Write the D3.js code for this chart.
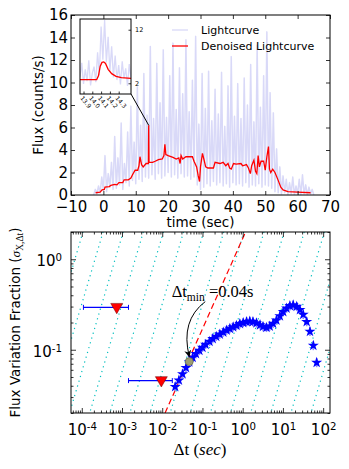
<!DOCTYPE html>
<html lang="en">
<head>
<meta charset="UTF-8" />
<title>Lightcurve and flux variation fraction</title>
<script src="https://d3js.org/d3.v7.min.js"></script>
<style>
  body { margin: 0; background: #fff; }
  svg { display: block; font-family: 'DejaVu Sans', sans-serif; }
</style>
</head>
<body>
<div id="chart"></div>
<script>
// ---- lightcurve (0.5 s bins starting at -3 s)
const lcStart = -3;
const lcBin = 0.5;
const lcFlux = [
  0.0, 0.5, 0.1, 0.8, 0.2, 1.6, 0.4, 3.5, 0.3, 1.9,
  0.7, 2.9, 0.5, 5.2, 0.6, 3.3, 0.9, 6.4, 0.5, 2.8,
  1.1, 5.6, 0.8, 7.9, 1.3, 4.7, 1.0, 9.6, 1.4, 6.2,
  1.2, 10.8, 1.6, 7.1, 1.5, 13.2, 1.8, 6.8, 1.4, 11.7,
  1.9, 8.2, 1.5, 12.9, 1.7, 6.9, 2.0, 10.6, 1.6, 13.5,
  1.8, 7.6, 1.5, 11.3, 1.9, 9.0, 1.6, 13.8, 1.7, 7.4,
  1.4, 10.2, 1.6, 14.1, 0.9, 6.3, 0.5, 10.8, 0.7, 7.7,
  1.0, 11.0, 0.8, 6.6, 1.2, 9.4, 0.9, 7.2, 1.1, 10.9,
  0.8, 6.1, 1.0, 9.7, 0.7, 12.3, 1.1, 7.0, 0.9, 9.9,
  1.0, 6.8, 0.8, 10.4, 1.1, 8.0, 0.7, 11.6, 0.9, 6.5,
  0.8, 13.3, 1.0, 7.8, 0.7, 10.6, 0.9, 14.5, 0.8, 9.1,
  0.6, 7.3, 0.3, 4.1, 0.2, 2.5, 0.1, 1.7, 0.2, 1.4,
  0.0, 1.1, 0.1, 1.6, 0.0, 0.8, 0.1, 1.4, 0.0, 1.8,
  0.1, 0.9, 0.0, 0.7, 0.1, 0.5, 0.0
];

// denoised lightcurve [time, flux]
const denoised = [
  [-2.4, 0.2], [-1.0, 0.25], [-0.4, 0.45], [0.3, 0.5], [0.5, 0.7], [1.8, 0.75],
  [2.3, 0.85], [3.5, 0.95], [4.2, 0.9], [4.8, 1.1], [6.0, 1.1], [6.4, 1.35],
  [7.7, 1.35], [8.5, 1.5], [9.0, 1.8], [9.8, 2.2], [10.6, 2.2], [11.0, 2.6],
  [11.3, 3.4], [11.8, 2.7], [12.3, 2.5], [13.2, 2.8], [13.9, 2.8], [14.0, 6.2],
  [14.1, 2.9], [15.2, 2.9], [16.0, 3.0], [17.0, 3.15], [18.2, 3.2], [18.7, 3.5],
  [19.0, 4.5], [19.3, 3.6], [20.0, 3.5], [21.5, 3.35], [22.5, 3.2], [23.3, 3.3],
  [23.7, 2.8], [24.0, 3.5], [24.5, 3.2], [25.5, 3.4], [27.5, 3.4], [28.0, 3.0],
  [28.8, 2.5], [29.3, 1.7], [29.7, 1.2], [30.0, 2.5], [30.6, 3.7], [31.2, 3.0],
  [31.6, 2.5], [32.3, 2.4], [34.0, 2.4], [34.5, 2.9], [36.0, 2.8], [37.0, 2.9],
  [37.8, 2.6], [38.5, 2.8], [39.0, 2.4], [39.5, 2.3], [40.2, 2.8], [41.0, 2.75],
  [42.5, 2.8], [43.0, 2.6], [44.2, 2.7], [44.8, 2.4], [45.4, 1.9], [45.8, 2.6],
  [46.5, 3.1], [47.0, 2.1], [47.4, 1.9], [47.8, 3.5], [48.2, 2.5], [48.7, 3.0],
  [49.5, 3.0], [50.0, 2.2], [50.5, 3.4], [51.0, 4.3], [51.3, 2.3], [51.7, 2.0],
  [52.3, 2.3], [53.0, 2.0], [54.0, 1.3], [54.8, 0.7], [55.5, 0.45], [57.0, 0.3],
  [60.0, 0.25], [64.0, 0.2]
];
const spike = [14.0, 6.2];

// inset (0.02 s bins from 13.86 s)
const insetStart = 13.86;
const insetBin = 0.02;
const insetFlux = [3.2, 5.8, 1.9, 4.6, 2.4, 6.3, 1.6, 3.9, 5.1, 2.2, 7.8, 3.5, 12.6, 6.4, 13.8,
  5.9, 10.7, 4.2, 8.9, 3.1, 7.2, 2.6, 5.4, 1.8, 6.1, 2.9, 4.8, 1.5, 5.6, 3.0];
const insetDenoised = [
  [13.86, 2.7], [14.05, 2.7], [14.07, 3.4], [14.09, 5.2], [14.11, 5.9], [14.13, 6.0],
  [14.15, 5.7], [14.18, 4.6], [14.22, 3.8], [14.27, 3.3], [14.33, 3.05], [14.44, 2.9]
];

const topXTicks = [-10, 0, 10, 20, 30, 40, 50, 60, 70];
const topYTicks = [0, 2, 4, 6, 8, 10, 12, 14, 16];
const insetXTicks = [13.9, 14.0, 14.1, 14.2, 14.3];
const insetYTicks = [2, 12];

// ---- flux variation fraction vs timescale
const dtValues = [0.021, 0.026, 0.032, 0.039, 0.047, 0.057, 0.069, 0.084, 0.10, 0.12,
  0.15, 0.18, 0.22, 0.27, 0.33, 0.40, 0.48, 0.58, 0.70, 0.85,
  1.03, 1.25, 1.5, 1.8, 2.2, 2.7, 3.2, 3.9, 4.7, 5.7,
  6.9, 8.4, 10.2, 12.3, 14.9, 18, 22, 26.5, 32, 39, 47, 57, 69];
const sigmaValues = [0.039, 0.046, 0.054, 0.063, 0.073, 0.082, 0.090, 0.098, 0.106, 0.114,
  0.123, 0.132, 0.140, 0.148, 0.156, 0.164, 0.171, 0.178, 0.185, 0.193,
  0.199, 0.204, 0.206, 0.204, 0.197, 0.188, 0.180, 0.176, 0.182, 0.195,
  0.212, 0.236, 0.262, 0.287, 0.305, 0.311, 0.300, 0.277, 0.245, 0.204, 0.159, 0.111, 0.072];
const upperLimits = [
  { dt: 7.4e-4, lo: 1.1e-4, hi: 1.45e-3, sigma: 0.294 },
  { dt: 0.0095, lo: 1.45e-3, hi: 0.0178, sigma: 0.0456 }
];
const dtMinPoint = [0.047, 0.074];
const poissonRatio = 1.7;          // sigma = 1.7 * dt (red dashed)
const guideSlope = 1.5;            // cyan dotted guides
const guideTopLogDt = [-4.47, -3.97, -3.47, -2.97, -2.47, -1.97, -1.47, -0.97, -0.47,
  0.03, 0.53, 1.03, 1.53, 2.03, 2.53, 3.03, 3.53];
const logMajors = [1e-4, 1e-3, 1e-2, 1e-1, 1, 10, 100];
const sigmaMajors = [0.1, 1];

const W = 349, H = 469;
const svg = d3.select('#chart').append('svg').attr('width', W).attr('height', H);
const tickFont = 15;
const lcColor = '#d9d9f8';

// ================= top panel =================
const x1 = d3.scaleLinear().domain([-10, 70]).range([71, 330]);
const y1 = d3.scaleLinear().domain([0, 16]).range([195, 15]);

svg.append('clipPath').attr('id', 'clipTop')
  .append('rect').attr('x', 71).attr('y', 15).attr('width', 259).attr('height', 180);

const topG = svg.append('g');
topG.append('path')
  .datum(lcFlux)
  .attr('clip-path', 'url(#clipTop)')
  .attr('fill', 'none')
  .attr('stroke', lcColor)
  .attr('stroke-width', 1.5)
  .attr('stroke-linejoin', 'round')
  .attr('d', d3.line().x((d, i) => x1(lcStart + i * lcBin)).y(d => y1(d)));

topG.append('path')
  .datum(denoised)
  .attr('fill', 'none')
  .attr('stroke', '#ff0000')
  .attr('stroke-width', 1.3)
  .attr('d', d3.line().x(d => x1(d[0])).y(d => y1(d[1])));

function styleAxis(g, size) {
  g.select('.domain').remove();
  g.selectAll('line').attr('stroke', '#000').attr('stroke-width', 0.8);
  g.selectAll('text').attr('font-size', size).attr('font-family', 'DejaVu Sans, sans-serif').attr('fill', '#000');
}

topG.append('g').attr('transform', 'translate(0,195)')
  .call(d3.axisBottom(x1).tickValues(topXTicks).tickSize(-4).tickPadding(6).tickSizeOuter(0))
  .call(g => styleAxis(g, tickFont));
topG.append('g').attr('transform', 'translate(0,15)')
  .call(d3.axisTop(x1).tickValues(topXTicks).tickSize(-4).tickFormat('').tickSizeOuter(0))
  .call(g => styleAxis(g, tickFont));
topG.append('g').attr('transform', 'translate(71,0)')
  .call(d3.axisLeft(y1).tickValues(topYTicks).tickSize(-4).tickPadding(3).tickSizeOuter(0))
  .call(g => styleAxis(g, tickFont));
topG.append('g').attr('transform', 'translate(330,0)')
  .call(d3.axisRight(y1).tickValues(topYTicks).tickSize(-4).tickFormat('').tickSizeOuter(0))
  .call(g => styleAxis(g, tickFont));
topG.append('rect').attr('x', 71).attr('y', 15).attr('width', 259).attr('height', 180)
  .attr('fill', 'none').attr('stroke', '#000').attr('stroke-width', 1);

topG.append('text').attr('x', 200.5).attr('y', 227).attr('text-anchor', 'middle')
  .attr('font-size', 13.5).text('time (sec)');
topG.append('text').attr('transform', 'translate(43,105) rotate(-90)').attr('text-anchor', 'middle')
  .attr('font-size', 13.5).text('Flux (counts/s)');

// legend
const legend = [
  { label: 'Lightcurve', color: lcColor },
  { label: 'Denoised Lightcurve', color: '#ff0000' }
];
legend.forEach((d, i) => {
  const yy = 30 + i * 16;
  topG.append('line').attr('x1', 172).attr('x2', 188).attr('y1', yy).attr('y2', yy)
    .attr('stroke', d.color).attr('stroke-width', 1.3);
  topG.append('text').attr('x', 201).attr('y', yy).attr('dy', '0.35em')
    .attr('font-size', 11).text(d.label);
});

// inset
const xi = d3.scaleLinear().domain([13.86, 14.44]).range([80, 131]);
const yi = d3.scaleLinear().domain([0, 14]).range([94, 19]);
topG.append('line').attr('x1', 131).attr('y1', 94).attr('x2', x1(spike[0])).attr('y2', y1(spike[1]))
  .attr('stroke', '#000').attr('stroke-width', 1);
const inset = topG.append('g');
inset.append('clipPath').attr('id', 'clipInset')
  .append('rect').attr('x', 80).attr('y', 19).attr('width', 51).attr('height', 75);
inset.append('rect').attr('x', 80).attr('y', 19).attr('width', 51).attr('height', 75).attr('fill', '#fff');
inset.append('path').datum(insetFlux)
  .attr('clip-path', 'url(#clipInset)')
  .attr('fill', 'none').attr('stroke', lcColor).attr('stroke-width', 1.3)
  .attr('d', d3.line().x((d, i) => xi(insetStart + i * insetBin)).y(d => yi(d)));
inset.append('path').datum(insetDenoised)
  .attr('clip-path', 'url(#clipInset)')
  .attr('fill', 'none').attr('stroke', '#ff0000').attr('stroke-width', 1.3)
  .attr('d', d3.line().x(d => xi(d[0])).y(d => yi(d[1])));
inset.append('g').attr('transform', 'translate(0,94)')
  .call(d3.axisBottom(xi).tickValues(insetXTicks).tickSize(-2.5).tickFormat('').tickSizeOuter(0))
  .call(g => styleAxis(g, 6));
inset.append('g').attr('transform', 'translate(131,0)')
  .call(d3.axisRight(yi).tickValues(insetYTicks).tickSize(-2.5).tickPadding(4).tickSizeOuter(0))
  .call(g => styleAxis(g, 6.5));
inset.selectAll('.insetLabel').data(insetXTicks).enter().append('text')
  .attr('class', 'insetLabel')
  .attr('transform', d => `translate(${xi(d) - 2},97) rotate(50)`)
  .attr('font-size', 6).attr('dy', '0.35em').text(d => d.toFixed(1));
inset.append('rect').attr('x', 80).attr('y', 19).attr('width', 51).attr('height', 75)
  .attr('fill', 'none').attr('stroke', '#000').attr('stroke-width', 1);

// ================= bottom panel =================
const x2 = d3.scaleLog().domain([5.4e-5, 148]).range([71, 330]);
const y2 = d3.scaleLog().domain([0.02, 2]).range([413, 232]);

svg.append('clipPath').attr('id', 'clipBot')
  .append('rect').attr('x', 71).attr('y', 232).attr('width', 259).attr('height', 181);
const bot = svg.append('g');
const plot = bot.append('g').attr('clip-path', 'url(#clipBot)');

// cyan dotted guides
guideTopLogDt.forEach(l => {
  const dtTop = Math.pow(10, l);
  const dtBot = dtTop * Math.pow(10, -2 / guideSlope);
  plot.append('line')
    .attr('x1', x2(dtTop)).attr('y1', y2(2)).attr('x2', x2(dtBot)).attr('y2', y2(0.02))
    .attr('stroke', '#00bfbf').attr('stroke-width', 1.2)
    .attr('stroke-dasharray', '1.2,3.8');
});

// red dashed line sigma = k dt
plot.append('line')
  .attr('x1', x2(0.02 / poissonRatio)).attr('y1', y2(0.02))
  .attr('x2', x2(2 / poissonRatio)).attr('y2', y2(2))
  .attr('stroke', '#ff0000').attr('stroke-width', 1.2).attr('stroke-dasharray', '6,3.5');

// upper limits
upperLimits.forEach(u => {
  const yy = y2(u.sigma);
  plot.append('line').attr('x1', x2(u.lo)).attr('x2', x2(u.hi)).attr('y1', yy).attr('y2', yy)
    .attr('stroke', '#0000ff').attr('stroke-width', 1.2);
  [u.lo, u.hi].forEach(c => {
    plot.append('line').attr('x1', x2(c)).attr('x2', x2(c)).attr('y1', yy - 2.5).attr('y2', yy + 2.5)
      .attr('stroke', '#0000ff').attr('stroke-width', 1);
  });
});
upperLimits.forEach(u => {
  plot.append('path')
    .attr('d', d3.symbol().type(d3.symbolTriangle).size(62)())
    .attr('transform', `translate(${x2(u.dt)},${y2(u.sigma) - 0.5}) rotate(180)`)
    .attr('fill', '#ff0000').attr('stroke', '#660000').attr('stroke-width', 0.5);
});

// measured points
const pts = dtValues.map((d, i) => ({ dt: d, s: sigmaValues[i] }));
const errDex = 0.05;
pts.forEach(p => {
  const cx = x2(p.dt), cy = y2(p.s);
  plot.append('line').attr('x1', x2(p.dt / Math.pow(10, errDex))).attr('x2', x2(p.dt * Math.pow(10, errDex)))
    .attr('y1', cy).attr('y2', cy).attr('stroke', '#8c8cff').attr('stroke-width', 1.6);
  plot.append('line').attr('x1', cx).attr('x2', cx)
    .attr('y1', y2(p.s / Math.pow(10, errDex))).attr('y2', y2(p.s * Math.pow(10, errDex)))
    .attr('stroke', '#8c8cff').attr('stroke-width', 1.6);
});
plot.selectAll('.star').data(pts).enter().append('path')
  .attr('class', 'star')
  .attr('d', d3.symbol().type(d3.symbolStar).size(38)())
  .attr('transform', d => `translate(${x2(d.dt)},${y2(d.s)})`)
  .attr('fill', '#0000ff');

// dt_min marker
const mx = x2(dtMinPoint[0]), my = y2(dtMinPoint[1]);
plot.append('circle').attr('cx', mx).attr('cy', my).attr('r', 4)
  .attr('fill', '#9c9c72').attr('stroke', '#55553a').attr('stroke-width', 0.6);

// axes
const minorX = [];
const minorY = [];
[1e-5, 1e-4, 1e-3, 1e-2, 1e-1, 1, 10, 100].forEach(dec => {
  for (let m = 2; m <= 9; m++) minorX.push(dec * m);
});
[0.01, 0.1, 1].forEach(dec => {
  for (let m = 2; m <= 9; m++) minorY.push(dec * m);
});
const minorXIn = minorX.filter(v => v >= 5.4e-5 && v <= 148);
const minorYIn = minorY.filter(v => v >= 0.02 && v <= 2);

function supLabels(g) {
  g.selectAll('.tick text').each(function (d) {
    const t = d3.select(this);
    const e = Math.round(Math.log10(d));
    t.text('');
    t.append('tspan').text('10');
    t.append('tspan').attr('dy', '-0.5em').attr('font-size', '0.68em').text(e);
  });
}

bot.append('g').attr('transform', 'translate(0,413)')
  .call(d3.axisBottom(x2).tickValues(logMajors).tickSize(-5).tickPadding(11).tickSizeOuter(0))
  .call(g => styleAxis(g, tickFont)).call(supLabels);
bot.append('g').attr('transform', 'translate(0,413)')
  .call(d3.axisBottom(x2).tickValues(minorXIn).tickSize(-2.5).tickFormat('').tickSizeOuter(0))
  .call(g => styleAxis(g, tickFont));
bot.append('g').attr('transform', 'translate(0,232)')
  .call(d3.axisTop(x2).tickValues(logMajors).tickSize(-5).tickFormat('').tickSizeOuter(0))
  .call(g => styleAxis(g, tickFont));
bot.append('g').attr('transform', 'translate(0,232)')
  .call(d3.axisTop(x2).tickValues(minorXIn).tickSize(-2.5).tickFormat('').tickSizeOuter(0))
  .call(g => styleAxis(g, tickFont));
bot.append('g').attr('transform', 'translate(71,0)')
  .call(d3.axisLeft(y2).tickValues(sigmaMajors).tickSize(-5).tickPadding(9).tickSizeOuter(0))
  .call(g => styleAxis(g, tickFont)).call(supLabels)
  .call(g => g.selectAll('.tick text').attr('dy', '0.45em'));
bot.append('g').attr('transform', 'translate(71,0)')
  .call(d3.axisLeft(y2).tickValues(minorYIn).tickSize(-2.5).tickFormat('').tickSizeOuter(0))
  .call(g => styleAxis(g, tickFont));
bot.append('g').attr('transform', 'translate(330,0)')
  .call(d3.axisRight(y2).tickValues(sigmaMajors).tickSize(-5).tickFormat('').tickSizeOuter(0))
  .call(g => styleAxis(g, tickFont));
bot.append('g').attr('transform', 'translate(330,0)')
  .call(d3.axisRight(y2).tickValues(minorYIn).tickSize(-2.5).tickFormat('').tickSizeOuter(0))
  .call(g => styleAxis(g, tickFont));
bot.append('rect').attr('x', 71).attr('y', 232).attr('width', 259).attr('height', 181)
  .attr('fill', 'none').attr('stroke', '#000').attr('stroke-width', 1);

// annotation
svg.append('defs').append('marker').attr('id', 'arrowHead')
  .attr('viewBox', '0 0 10 10').attr('refX', 9).attr('refY', 5)
  .attr('markerWidth', 7).attr('markerHeight', 7).attr('orient', 'auto')
  .attr('markerUnits', 'userSpaceOnUse')
  .append('path').attr('d', 'M0,0 L10,5 L0,10 L3,5 Z').attr('fill', '#000');
bot.append('path')
  .attr('d', `M${mx + 16},${my - 60} Q${mx - 9},${my - 41} ${mx},${my - 5}`)
  .attr('fill', 'none').attr('stroke', '#000').attr('stroke-width', 1)
  .attr('marker-end', 'url(#arrowHead)');
const ann = bot.append('text').attr('x', mx - 17.6).attr('y', my - 64.5)
  .attr('font-family', 'Liberation Serif, serif').attr('font-size', 16.5);
ann.append('tspan').text('\u0394t');
ann.append('tspan').attr('dy', 3.5).attr('font-size', 11.5).text('min');
ann.append('tspan').attr('dy', -3.5).text(' =0.04s');

// axis labels
const xl = bot.append('text').attr('x', 200).attr('y', 455).attr('text-anchor', 'middle')
  .attr('font-family', 'Liberation Serif, serif').attr('font-size', 17);
xl.append('tspan').text('\u0394t (');
xl.append('tspan').attr('font-style', 'italic').text('sec');
xl.append('tspan').text(')');

const yl = bot.append('text').attr('transform', 'translate(19.5,322.5) rotate(-90)')
  .attr('text-anchor', 'middle').attr('font-size', 13.5);
yl.append('tspan').text('Flux Variation Fraction (');
yl.append('tspan').attr('font-family', 'Liberation Serif, serif').attr('font-style', 'italic').text('\u03c3');
yl.append('tspan').attr('font-family', 'Liberation Serif, serif').attr('font-size', 9.5).attr('dy', 3).text('X,\u0394t');
yl.append('tspan').attr('dy', -3).text(')');
</script>
</body>
</html>
